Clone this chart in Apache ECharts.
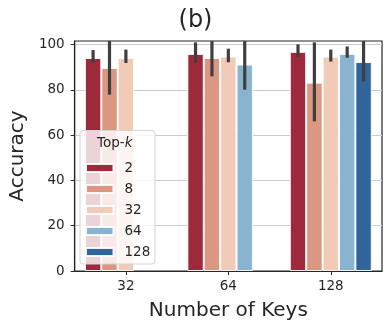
<!DOCTYPE html>
<html>
<head>
<meta charset="utf-8">
<script src="https://cdn.jsdelivr.net/npm/echarts@6/dist/echarts.min.js"></script>
<style>
  html, body { margin: 0; padding: 0; background: #fff; }
  #chart { width: 391px; height: 330px; }
</style>
</head>
<body>
<div id="chart"></div>
<script>
// x categories and hue levels
var keys = ['32', '64', '128'];
var topK = ['2', '8', '32', '64', '128'];
var colors = ['#9c2a3b', '#db9782', '#f1cbb7', '#89b4d0', '#30649a'];

// mean accuracy per Top-k, one value per key count ('-' = no bar)
var acc2 = [94.1, 95.9, 96.8];
var acc8 = [89.7, 94.1, 83.2];
var acc32 = [94.1, 94.7, 94.7];
var acc64 = ['-', 91.2, 95.9];
var acc128 = ['-', '-', 92.3];

// confidence interval ends
var low2 = [92.0, 91.9, 94.6],   high2 = [97.6, 101.0, 100.1];
var low8 = [77.9, 86.0, 66.1],   high8 = [103, 103, 101.0];
var low32 = [91.9, 92.2, 92.5],  high32 = [97.8, 98.2, 97.8];
var low64 = ['-', 80.1, 94.2],   high64 = ['-', 103, 99.2];
var low128 = ['-', '-', 83.8],   high128 = ['-', '-', 103];

var yTicks = [0, 20, 40, 60, 80, 100];

var accs = [acc2, acc8, acc32, acc64, acc128];
var lows = [low2, low8, low32, low64, low128];
var highs = [high2, high8, high32, high64, high128];

var FONT = 'DejaVu Sans';
var TXT = '#262626';

// bar series
var series = [];
for (var h = 0; h < topK.length; h++) {
    series.push({
        name: topK[h],
        type: 'bar',
        data: accs[h],
        barGap: '0%',
        barCategoryGap: '20%',
        itemStyle: { color: colors[h], borderColor: 'rgba(255,255,255,0.9)', borderWidth: 1 },
        emphasis: { disabled: true },
        z: 2
    });
}

// error bars
var errData = [];
for (var h = 0; h < topK.length; h++) {
    for (var i = 0; i < keys.length; i++) {
        if (accs[h][i] !== '-') errData.push([i, lows[h][i], highs[h][i], h]);
    }
}
series.push({
    type: 'custom',
    data: errData,
    encode: { x: 0, y: [1, 2] },
    z: 3,
    silent: true,
    renderItem: function (params, api) {
        var i = api.value(0), h = api.value(3);
        var band = api.size([1, 0])[0];
        var slot = band * 0.8 / topK.length;
        var off = (h - (topK.length - 1) / 2) * slot;
        var p1 = api.coord([i, api.value(1)]);
        var p2 = api.coord([i, api.value(2)]);
        var top = params.coordSys.y;
        var x = p1[0] + off;
        return {
            type: 'line',
            shape: { x1: x, y1: p1[1], x2: x, y2: Math.max(p2[1], top) },
            style: { stroke: '#3f3f3f', lineWidth: 3.2 }
        };
    }
});

var chart = echarts.init(document.getElementById('chart'));
chart.setOption({
    backgroundColor: '#fff',
    animation: false,
    textStyle: { fontFamily: FONT, color: TXT },
    title: [{
        text: '(b)',
        left: 'center',
        top: 9,
        padding: 0,
        textStyle: { fontFamily: FONT, fontSize: 24, fontWeight: 'normal', color: TXT }
    }, {
        text: '{a|Top-}{b|k}',
        left: 97,
        top: 136,
        padding: 0,
        z: 6,
        textStyle: {
            fontWeight: 'normal',
            rich: {
                a: { fontFamily: FONT, fontSize: 13.5, fontWeight: 'normal', color: TXT },
                b: { fontFamily: FONT, fontSize: 13.5, fontWeight: 'normal', fontStyle: 'italic', color: TXT }
            }
        }
    }],
    grid: {
        left: 73, right: 9, top: 41, bottom: 59,
        show: true, borderColor: TXT, borderWidth: 1.2
    },
    graphic: [{
        type: 'rect',
        z: 3,
        shape: { x: 80, y: 130.5, width: 75, height: 133.5, r: 3 },
        style: { fill: 'rgba(255,255,255,0.8)', stroke: '#d4d4d4', lineWidth: 1 }
    }],
    legend: {
        data: topK,
        orient: 'vertical',
        left: 80,
        top: 155.5,
        itemWidth: 27.5,
        itemHeight: 8,
        itemGap: 6,
        icon: 'rect',
        z: 5,
        selectedMode: false,
        textStyle: { fontFamily: FONT, fontSize: 13.5, color: TXT, lineHeight: 15, padding: [0, 0, 0, 6] }
    },
    xAxis: {
        type: 'category',
        data: keys,
        name: 'Number of Keys',
        nameLocation: 'middle',
        nameGap: 30,
        nameTextStyle: { fontFamily: FONT, fontSize: 20, color: TXT },
        axisLine: { show: true, lineStyle: { color: TXT, width: 1.2 } },
        axisTick: { show: true, alignWithLabel: true, length: 4, lineStyle: { color: TXT } },
        axisLabel: { fontFamily: FONT, fontSize: 13.5, color: TXT, margin: 8 },
        splitLine: { show: false }
    },
    yAxis: {
        type: 'value',
        min: 0,
        max: 101.6,
        interval: 20,
        name: 'Accuracy',
        nameLocation: 'middle',
        nameGap: 46,
        nameTextStyle: { fontFamily: FONT, fontSize: 20, color: TXT },
        axisLine: { show: true, lineStyle: { color: TXT, width: 1.2 } },
        axisTick: { show: true, length: 4, lineStyle: { color: TXT }, customValues: yTicks },
        axisLabel: { fontFamily: FONT, fontSize: 13.5, color: TXT, margin: 10, customValues: yTicks },
        splitLine: { show: true, lineStyle: { color: '#cccccc', width: 1 } }
    },
    series: series
});
</script>
</body>
</html>
